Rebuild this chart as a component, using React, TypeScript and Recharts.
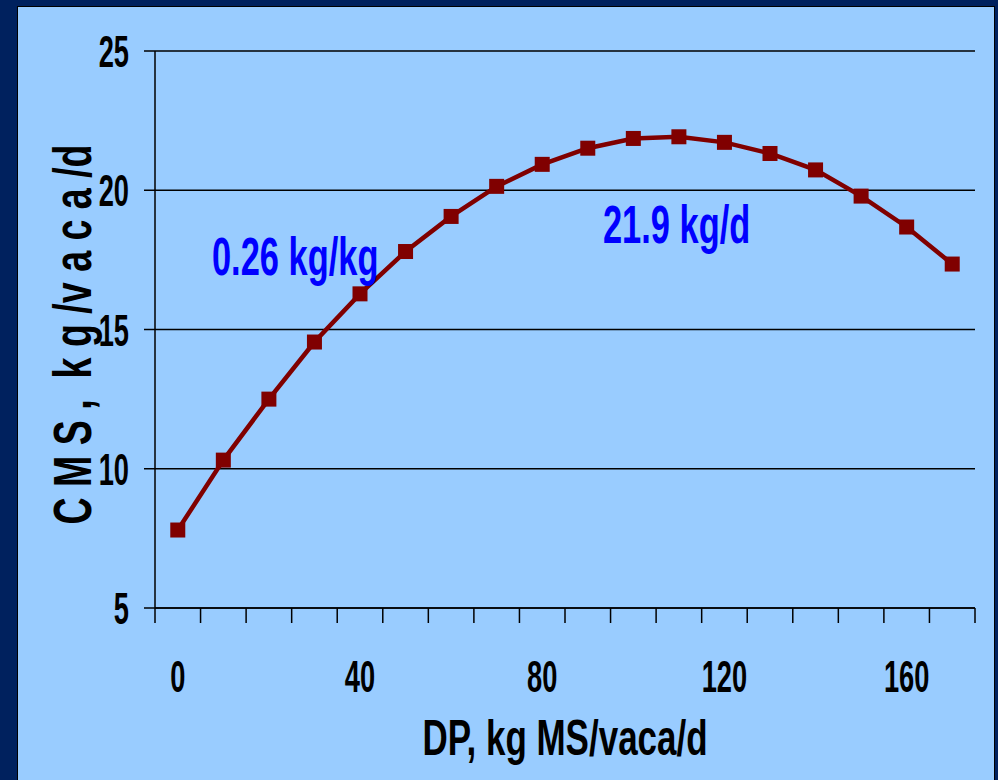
import React from "react";
import { LineChart, Line, XAxis, YAxis, CartesianGrid, ReferenceDot } from "recharts";

const categories = [0, 10, 20, 30, 40, 50, 60, 70, 80, 90, 100, 110, 120, 130, 140, 150, 160, 170];
const cmsValues = [7.8, 10.31, 12.5, 14.55, 16.28, 17.8, 19.06, 20.14, 20.93, 21.51, 21.86, 21.92, 21.72, 21.32, 20.73, 19.79, 18.68, 17.35];
const yTicks = [5, 10, 15, 20, 25];
const xLabelTicks = [0, 40, 80, 120, 160];
const xBoundaryTicks = [-5, 5, 15, 25, 35, 45, 55, 65, 75, 85, 95, 105, 115, 125, 135, 145, 155, 165, 175];
const xAllTicks = [...xBoundaryTicks, ...xLabelTicks].sort((a, b) => a - b);
const slopeText = "0.26 kg/kg";
const peakText = "21.9 kg/d";
const slopeAnchor = { x: 7.5, y: 16.96 };
const peakAnchor = { x: 109.5, y: 18.1 };

const data = categories.map((c, i) => ({ dp: c, cms: cmsValues[i] }));

const FONT = '"Liberation Sans", Arial, sans-serif';
const RED = "#800000";

const XTick = (props: any) => {
  const { x, y, payload } = props;
  const v = payload.value;
  const isBoundary = xBoundaryTicks.includes(v);
  const isLabel = xLabelTicks.includes(v);
  const axisY = y - 15;
  return (
    <g>
      {isBoundary && <line x1={x} x2={x} y1={axisY} y2={axisY + 15} stroke="#000" strokeWidth={1.5} />}
      {isLabel && (
        <g transform={`translate(${x},${axisY + 84}) scale(0.62,1)`}>
          <text x={0} y={0} textAnchor="middle" fontFamily={FONT} fontWeight="bold" fontSize={44} fill="#000">
            {String(v)}
          </text>
        </g>
      )}
    </g>
  );
};

const YTick = (props: any) => {
  const { x, y, payload } = props;
  return (
    <g transform={`translate(${x},${y + 16}) scale(0.62,1)`}>
      <text x={0} y={0} textAnchor="end" fontFamily={FONT} fontWeight="bold" fontSize={44} fill="#000">
        {String(payload.value)}
      </text>
    </g>
  );
};

const SquareDot = (props: any) => {
  const { cx, cy, index } = props;
  if (cx == null || cy == null) return <g key={index} />;
  return <rect key={index} x={cx - 7.5} y={cy - 7.5} width={15} height={15} fill={RED} />;
};

const XTitle = (props: any) => {
  const vb = props.viewBox || {};
  const cx = vb.x + vb.width / 2;
  return (
    <g transform={`translate(${cx},${vb.y + 147}) scale(0.7,1)`}>
      <text x={0} y={0} textAnchor="middle" fontFamily={FONT} fontWeight="bold" fontSize={50} fill="#000">
        DP, kg MS/vaca/d
      </text>
    </g>
  );
};

const YTitle = (props: any) => {
  const vb = props.viewBox || {};
  const cy = vb.y + vb.height / 2 + 5;
  return (
    <g transform={`translate(91,${cy}) rotate(-90) scale(0.696,1)`}>
      <text x={0} y={0} textAnchor="middle" fontFamily={FONT} fontWeight="bold" fontSize={54} fill="#000" style={{ whiteSpace: "pre" }}>
        {"C M S ,  k g /v a c a /d"}
      </text>
    </g>
  );
};

const makeNote = (text: string, anchor: "start" | "middle") => (props: any) => {
  const { cx, cy } = props;
  if (cx == null || cy == null) return <g />;
  return (
    <g transform={`translate(${cx},${cy}) scale(0.65,1)`}>
      <text x={0} y={0} textAnchor={anchor} fontFamily={FONT} fontWeight="bold" fontSize={53} fill="#0000FF">
        {text}
      </text>
    </g>
  );
};

export default function App() {
  return (
    <div style={{ position: "fixed", left: 0, top: 0, width: 998, height: 780, background: "#00215E", overflow: "hidden" }}>
      <div
        style={{
          position: "absolute",
          left: 17,
          top: 6,
          width: 976,
          height: 800,
          background: "#99CCFF",
          border: "1px solid #000",
        }}
      />
      <div style={{ position: "absolute", left: 0, top: 0 }}>
        <LineChart width={998} height={780} data={data} margin={{ top: 51, right: 23, bottom: 0, left: 0 }}>
          <CartesianGrid horizontal={true} vertical={false} stroke="#000" strokeWidth={1.5} />
          <XAxis
            dataKey="dp"
            type="number"
            domain={[-5, 175]}
            ticks={xAllTicks}
            interval={0}
            height={172}
            tickSize={15}
            tickMargin={0}
            tickLine={false}
            axisLine={{ stroke: "#000", strokeWidth: 1.5 }}
            tick={XTick}
            label={<XTitle />}
          />
          <YAxis
            type="number"
            domain={[5, 25]}
            ticks={yTicks}
            interval={0}
            width={155}
            tickSize={11}
            tickMargin={15}
            tickLine={{ stroke: "#000", strokeWidth: 1.5 }}
            axisLine={{ stroke: "#000", strokeWidth: 1.5 }}
            tick={YTick}
            label={<YTitle />}
          />
          <Line
            type="linear"
            dataKey="cms"
            stroke={RED}
            strokeWidth={4.5}
            dot={SquareDot}
            activeDot={false}
            isAnimationActive={false}
          />
          <ReferenceDot x={slopeAnchor.x} y={slopeAnchor.y} r={0} shape={makeNote(slopeText, "start")} />
          <ReferenceDot x={peakAnchor.x} y={peakAnchor.y} r={0} shape={makeNote(peakText, "middle")} />
        </LineChart>
      </div>
    </div>
  );
}
